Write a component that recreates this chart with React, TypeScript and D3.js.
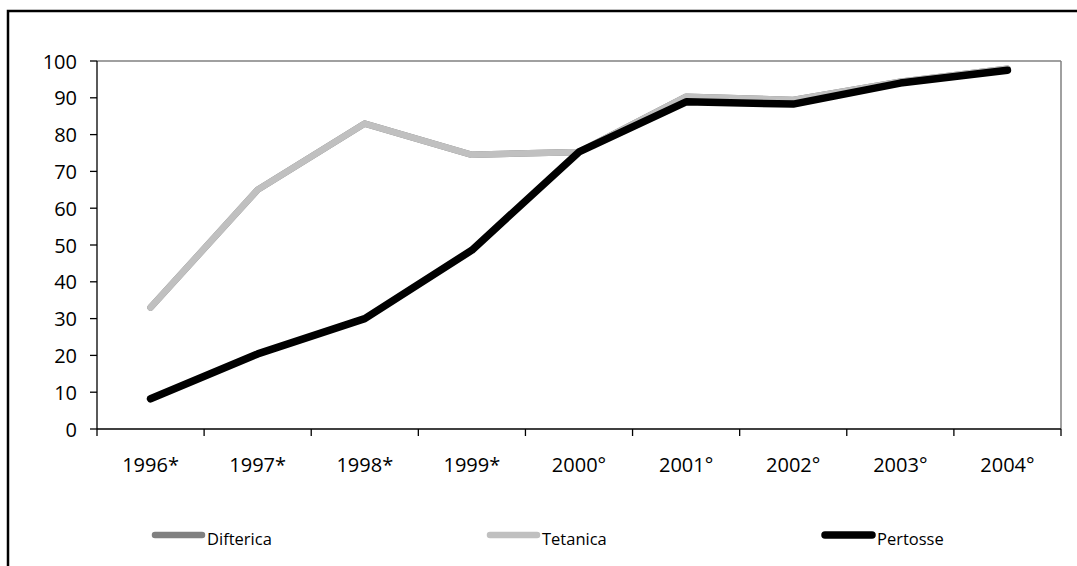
import React from "react";
import * as d3 from "d3";

const categories = ["1996*", "1997*", "1998*", "1999*", "2000°", "2001°", "2002°", "2003°", "2004°"];
const difterica = [33, 65, 83, 74.5, 75.3, 90.3, 89.4, 94.4, 97.9];
const tetanica = [33, 65, 83, 74.5, 75.3, 90.3, 89.4, 94.4, 97.9];
const pertosse = [8.2, 20.4, 30, 48.6, 75.3, 88.9, 88.3, 94, 97.5];
const yTicks = [0, 10, 20, 30, 40, 50, 60, 70, 80, 90, 100];

const series = [
  { name: "Difterica", values: difterica, color: "#808080", width: 6.5, legendX: 152 },
  { name: "Tetanica", values: tetanica, color: "#c0c0c0", width: 6.5, legendX: 487 },
  { name: "Pertosse", values: pertosse, color: "#000000", width: 7.5, legendX: 822 },
];

const W = 1077;
const H = 566;
const left = 97;
const right = 1061;
const top = 61;
const bottom = 429;
const font = "'Open Sans', 'Noto Sans', sans-serif";

export default function App() {
  const x = d3.scaleBand<string>().domain(categories).range([left, right]).padding(0);
  const y = d3.scaleLinear().domain([0, 100]).range([bottom, top]);
  const cx = (c: string) => (x(c) as number) + x.bandwidth() / 2;
  const line = d3
    .line<number>()
    .x((_, i) => cx(categories[i]))
    .y((v) => y(v));

  const boundaries = categories.map((c) => x(c) as number).concat([right]);

  return (
    <div style={{ position: "fixed", left: 0, top: 0, width: W, height: H, background: "#fff" }}>
      <svg width={W} height={H} style={{ display: "block" }}>
        <rect x={0} y={0} width={W} height={H} fill="#fff" />
        {/* outer frame */}
        <rect x={8} y={11} width={W + 20} height={H + 20} fill="none" stroke="#000" strokeWidth={2.5} />
        {/* plot frame top/right */}
        <line x1={left} y1={top} x2={right} y2={top} stroke="#808080" strokeWidth={1.5} />
        <line x1={right} y1={top} x2={right} y2={bottom} stroke="#808080" strokeWidth={1.5} />
        {/* y axis */}
        <line x1={left} y1={top} x2={left} y2={bottom} stroke="#000" strokeWidth={1.3} />
        {yTicks.map((t) => (
          <g key={t}>
            <line x1={left - 7} x2={left} y1={y(t)} y2={y(t)} stroke="#000" strokeWidth={1.3} />
            <text
              x={77}
              y={y(t)}
              textAnchor="end"
              dominantBaseline="central"
              fontFamily={font}
              fontSize={20}
              fill="#000"
            >
              {t}
            </text>
          </g>
        ))}
        {/* x axis */}
        <line x1={left} y1={bottom} x2={right} y2={bottom} stroke="#000" strokeWidth={1.3} />
        {boundaries.map((b, i) => (
          <line key={i} x1={b} x2={b} y1={bottom} y2={bottom + 7} stroke="#000" strokeWidth={1.3} />
        ))}
        {categories.map((c) => (
          <text
            key={c}
            x={cx(c)}
            y={464}
            textAnchor="middle"
            dominantBaseline="central"
            fontFamily={font}
            fontSize={20}
            fill="#000"
          >
            {c}
          </text>
        ))}
        {/* lines */}
        {series.map((s) => (
          <path
            key={s.name}
            d={line(s.values) as string}
            fill="none"
            stroke={s.color}
            strokeWidth={s.width}
            strokeLinejoin="round"
            strokeLinecap="round"
          />
        ))}
        {/* legend */}
        {series.map((s) => (
          <g key={s.name}>
            <line
              x1={s.legendX + 3}
              x2={s.legendX + 50}
              y1={535}
              y2={535}
              stroke={s.color}
              strokeWidth={s.width}
              strokeLinecap="round"
            />
            <text
              x={s.legendX + 55}
              y={538}
              dominantBaseline="central"
              fontFamily={font}
              fontSize={16.5}
              fill="#000"
            >
              {s.name}
            </text>
          </g>
        ))}
      </svg>
    </div>
  );
}
